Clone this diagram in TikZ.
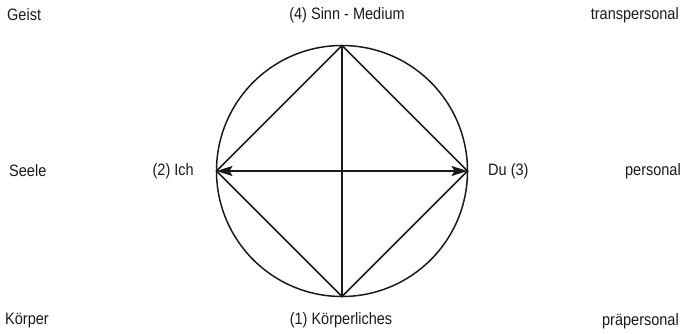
\documentclass[tikz,border=0pt]{standalone}
\usepackage{fontspec}
\setmainfont[FakeStretch=0.88]{Liberation Sans}
\usetikzlibrary{arrows.meta}
\definecolor{ink}{HTML}{1A1A1A}
\begin{document}
\begin{tikzpicture}[x=1pt,y=-1pt,
  lbl/.style={inner sep=0pt, text=ink, font=\fontsize{16.5}{19}\selectfont},
  ln/.style={line width=1.5pt, draw=ink},
  arr/.style={ln, {Stealth[length=16pt,width=10pt,inset=3pt]}-{Stealth[length=16pt,width=10pt,inset=3pt]}}]
\useasboundingbox (0,0) rectangle (685,333);
\coordinate (c) at (342,171);
\coordinate (t) at (342,45.5);
\coordinate (b) at (342,296.5);
\coordinate (l) at (216.5,171);
\coordinate (r) at (467.5,171);
\draw[ln] (c) circle[radius=125.5];
\draw[ln] (t) -- (l) -- (b) -- (r) -- cycle;
\draw[ln] (t) -- (b);
\draw[arr] (l) -- (r);
\node[lbl, anchor=west] (geist) at (7,15) {Geist};
\node[lbl, anchor=center] (sinn) at (347,15) {(4) Sinn - Medium};
\node[lbl, anchor=east] (trans) at (679,15) {transpersonal};
\node[lbl, anchor=west] (seele) at (9,171) {Seele};
\node[lbl, anchor=east] (ich) at (194,171) {(2) Ich};
\node[lbl, anchor=west] (du) at (488,171) {Du (3)};
\node[lbl, anchor=east] (pers) at (681,171) {personal};
\node[lbl, anchor=west] (koerper) at (5,321) {Körper};
\node[lbl, anchor=center] (kl) at (341,320) {(1) Körperliches};
\node[lbl, anchor=east] (praep) at (679,321) {präpersonal};
\end{tikzpicture}
\end{document}
